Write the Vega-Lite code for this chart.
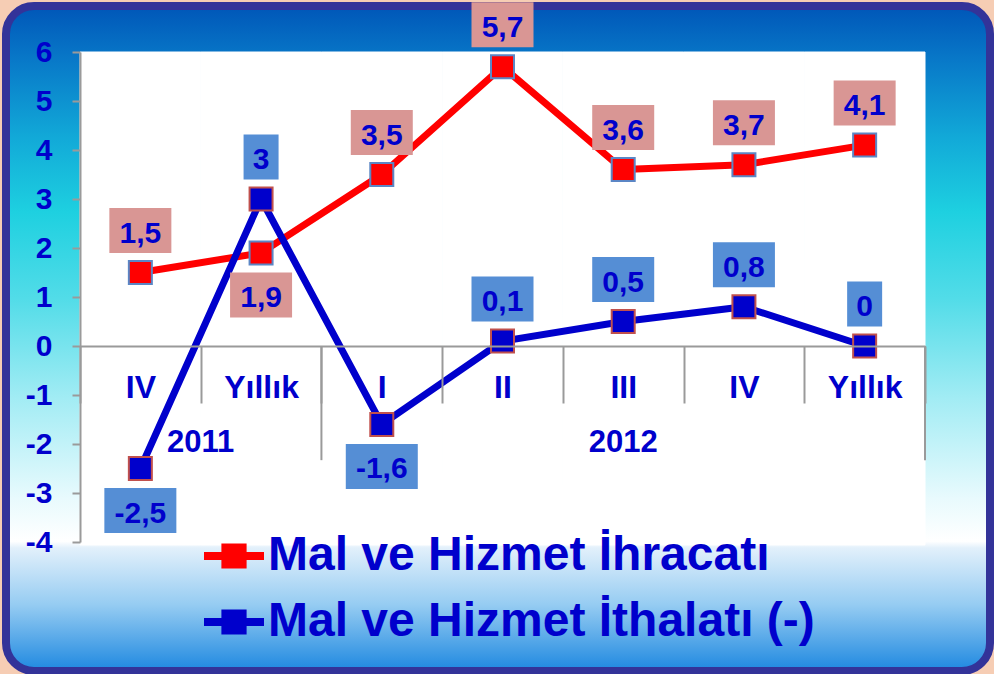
{
  "$schema": "https://vega.github.io/schema/vega-lite/v6.json",
  "width": 984,
  "height": 665,
  "autosize": "none",
  "padding": {"left": 6, "top": 6, "right": 4, "bottom": 3},
  "background": "#f6cdb4",
  "view": {
    "fill": {"gradient": "linear", "x1": 0, "y1": 0, "x2": 0, "y2": 1, "stops": [
      {"offset": 0, "color": "#0056b8"},
      {"offset": 0.08, "color": "#0878c8"},
      {"offset": 0.2, "color": "#12aad8"},
      {"offset": 0.31, "color": "#1ed0e0"},
      {"offset": 0.44, "color": "#52dce8"},
      {"offset": 0.59, "color": "#a2ecf4"},
      {"offset": 0.74, "color": "#e8fafd"},
      {"offset": 0.805, "color": "#ffffff"},
      {"offset": 0.815, "color": "#e2f0fb"},
      {"offset": 0.9, "color": "#96ccf2"},
      {"offset": 1, "color": "#1e88e0"}
    ]},
    "stroke": "#333399",
    "strokeWidth": 8,
    "cornerRadius": 28
  },
  "config": {
    "font": "Liberation Sans",
    "locale": {"number": {"decimal": ",", "thousands": ".", "grouping": [3], "currency": ["", " TL"], "minus": "-"}}
  },
  "data": {"values": [
    {"period": "2011|IV", "series": "Mal ve Hizmet İhracatı", "value": 1.5},
    {"period": "2011|Yıllık", "series": "Mal ve Hizmet İhracatı", "value": 1.9},
    {"period": "2012|I", "series": "Mal ve Hizmet İhracatı", "value": 3.5},
    {"period": "2012|II", "series": "Mal ve Hizmet İhracatı", "value": 5.7},
    {"period": "2012|III", "series": "Mal ve Hizmet İhracatı", "value": 3.6},
    {"period": "2012|IV", "series": "Mal ve Hizmet İhracatı", "value": 3.7},
    {"period": "2012|Yıllık", "series": "Mal ve Hizmet İhracatı", "value": 4.1},
    {"period": "2011|IV", "series": "Mal ve Hizmet İthalatı (-)", "value": -2.5},
    {"period": "2011|Yıllık", "series": "Mal ve Hizmet İthalatı (-)", "value": 3},
    {"period": "2012|I", "series": "Mal ve Hizmet İthalatı (-)", "value": -1.6},
    {"period": "2012|II", "series": "Mal ve Hizmet İthalatı (-)", "value": 0.1},
    {"period": "2012|III", "series": "Mal ve Hizmet İthalatı (-)", "value": 0.5},
    {"period": "2012|IV", "series": "Mal ve Hizmet İthalatı (-)", "value": 0.8},
    {"period": "2012|Yıllık", "series": "Mal ve Hizmet İthalatı (-)", "value": 0}
  ]},
  "layer": [
    {
      "transform": [{"filter": "datum.series == 'Mal ve Hizmet İhracatı'"}],
      "mark": {"type": "rect", "fill": "white", "stroke": "white", "strokeWidth": 1},
      "encoding": {
        "x": {"field": "period", "type": "nominal",
          "scale": {"domain": ["2011|IV", "2011|Yıllık", "2012|I", "2012|II", "2012|III", "2012|IV", "2012|Yıllık"], "range": [74, 919], "paddingInner": 0, "paddingOuter": 0},
          "axis": {"orient": "bottom", "offset": -325, "title": null, "tickBand": "extent", "tickSize": 57, "tickColor": "#9a9a9a", "tickWidth": 2, "domainColor": "#9a9a9a", "domainWidth": 2, "labelExpr": "split(datum.label, '|')[1]", "labelFont": "Liberation Sans", "labelFontSize": 32, "labelFontWeight": "bold", "labelColor": "#0000cc", "labelBaseline": "middle", "labelPadding": -16, "labelAngle": 0, "zindex": 1}},
        "y": {"datum": 6, "type": "quantitative",
          "scale": {"domain": [-4, 6], "range": [536, 46], "nice": false, "zero": false},
          "axis": {"orient": "left", "offset": -74, "title": null, "values": [-4, -3, -2, -1, 0, 1, 2, 3, 4, 5, 6], "format": ".0f", "grid": false, "tickSize": 8, "tickColor": "#9a9a9a", "tickWidth": 2, "domainColor": "#9a9a9a", "domainWidth": 2, "labelFont": "Liberation Sans", "labelFontSize": 30, "labelFontWeight": "bold", "labelColor": "#0000cc", "labelPadding": 20, "labelFlush": false, "labelOverlap": false, "zindex": 1}},
        "y2": {"datum": -4.06}
      }
    },
    {
      "transform": [{"filter": "datum.series == 'Mal ve Hizmet İhracatı' && datum.period == '2012|I'"}],
      "mark": {"type": "rule", "color": "#9a9a9a", "strokeWidth": 2},
      "encoding": {
        "x": {"field": "period", "type": "nominal", "bandPosition": 0},
        "y": {"datum": 0, "type": "quantitative"},
        "y2": {"datum": -2.33}
      }
    },
    {
      "transform": [{"filter": "datum.series == 'Mal ve Hizmet İhracatı' && datum.period == '2012|Yıllık'"}],
      "mark": {"type": "rule", "color": "#9a9a9a", "strokeWidth": 2},
      "encoding": {
        "x": {"field": "period", "type": "nominal", "bandPosition": 1},
        "y": {"datum": 0, "type": "quantitative"},
        "y2": {"datum": -2.33}
      }
    },
    {
      "transform": [{"filter": "datum.series == 'Mal ve Hizmet İhracatı' && datum.period == '2011|Yıllık'"}],
      "mark": {"type": "text", "dy": 97, "fontSize": 31, "fontWeight": "bold", "fill": "#0000cc", "baseline": "middle", "align": "center"},
      "encoding": {
        "x": {"field": "period", "type": "nominal", "bandPosition": 0},
        "y": {"datum": 0, "type": "quantitative"},
        "text": {"value": "2011"}
      }
    },
    {
      "transform": [{"filter": "datum.series == 'Mal ve Hizmet İhracatı' && datum.period == '2012|III'"}],
      "mark": {"type": "text", "dy": 97, "fontSize": 31, "fontWeight": "bold", "fill": "#0000cc", "baseline": "middle", "align": "center"},
      "encoding": {
        "x": {"field": "period", "type": "nominal"},
        "y": {"datum": 0, "type": "quantitative"},
        "text": {"value": "2012"}
      }
    },
    {
      "mark": {"type": "line", "strokeWidth": 7, "strokeJoin": "round", "strokeCap": "round"},
      "encoding": {
        "x": {"field": "period", "type": "nominal"},
        "y": {"field": "value", "type": "quantitative"},
        "detail": {"field": "series"},
        "stroke": {"condition": {"test": "datum.series == 'Mal ve Hizmet İhracatı'", "value": "#ff0000"}, "value": "#0000cc"}
      }
    },
    {
      "mark": {"type": "point", "shape": "square", "size": 529, "filled": true, "opacity": 1, "strokeWidth": 2},
      "encoding": {
        "x": {"field": "period", "type": "nominal"},
        "y": {"field": "value", "type": "quantitative"},
        "color": {"field": "series", "type": "nominal",
          "scale": {"domain": ["Mal ve Hizmet İhracatı", "Mal ve Hizmet İthalatı (-)"], "range": ["#ff0000", "#0000cc"]},
          "legend": {"orient": "none", "legendX": 198, "legendY": 520, "title": null, "direction": "vertical",
            "symbolType": "M-1,-0.13H1V0.13H-1Z M-0.42,-0.42H0.42V0.42H-0.42Z", "symbolSize": 3600, "symbolStrokeWidth": 0, "symbolOpacity": 1,
            "labelFont": "Liberation Sans", "labelFontSize": 48, "labelFontWeight": "bold", "labelColor": "#0000cc", "labelLimit": 2000, "labelOffset": 4,
            "rowPadding": 12, "padding": 0, "zindex": 1}},
        "stroke": {"condition": {"test": "datum.series == 'Mal ve Hizmet İhracatı'", "value": "#5b86c5"}, "value": "#c0504d"}
      }
    },
    {
      "transform": [{"filter": "!(datum.value < 0 || (datum.series == 'Mal ve Hizmet İhracatı' && datum.period == '2011|Yıllık'))"}],
      "mark": {"type": "bar", "yOffset": -64.5, "y2Offset": -19.5},
      "encoding": {
        "x": {"field": "period", "type": "nominal"},
        "y": {"field": "value", "type": "quantitative"},
        "y2": {"field": "value"},
        "size": {"condition": [{"test": "datum.value < 0", "value": 72}, {"test": "datum.value == floor(datum.value)", "value": 35}], "value": 62},
        "fill": {"condition": {"test": "datum.series == 'Mal ve Hizmet İhracatı'", "value": "#d99694"}, "value": "#558ed5"}
      }
    },
    {
      "transform": [{"filter": "datum.value < 0 || (datum.series == 'Mal ve Hizmet İhracatı' && datum.period == '2011|Yıllık')"}],
      "mark": {"type": "bar", "yOffset": 19.5, "y2Offset": 64.5},
      "encoding": {
        "x": {"field": "period", "type": "nominal"},
        "y": {"field": "value", "type": "quantitative"},
        "y2": {"field": "value"},
        "size": {"condition": [{"test": "datum.value < 0", "value": 72}, {"test": "datum.value == floor(datum.value)", "value": 35}], "value": 62},
        "fill": {"condition": {"test": "datum.series == 'Mal ve Hizmet İhracatı'", "value": "#d99694"}, "value": "#558ed5"}
      }
    },
    {
      "transform": [{"filter": "!(datum.value < 0 || (datum.series == 'Mal ve Hizmet İhracatı' && datum.period == '2011|Yıllık'))"}],
      "mark": {"type": "text", "dy": -39, "fontSize": 30, "fontWeight": "bold", "fill": "#0000cc", "baseline": "middle", "align": "center"},
      "encoding": {
        "x": {"field": "period", "type": "nominal"},
        "y": {"field": "value", "type": "quantitative"},
        "text": {"field": "value", "type": "quantitative", "format": ".1~f"}
      }
    },
    {
      "transform": [{"filter": "datum.value < 0 || (datum.series == 'Mal ve Hizmet İhracatı' && datum.period == '2011|Yıllık')"}],
      "mark": {"type": "text", "dy": 45, "fontSize": 30, "fontWeight": "bold", "fill": "#0000cc", "baseline": "middle", "align": "center"},
      "encoding": {
        "x": {"field": "period", "type": "nominal"},
        "y": {"field": "value", "type": "quantitative"},
        "text": {"field": "value", "type": "quantitative", "format": ".1~f"}
      }
    }
  ]
}
